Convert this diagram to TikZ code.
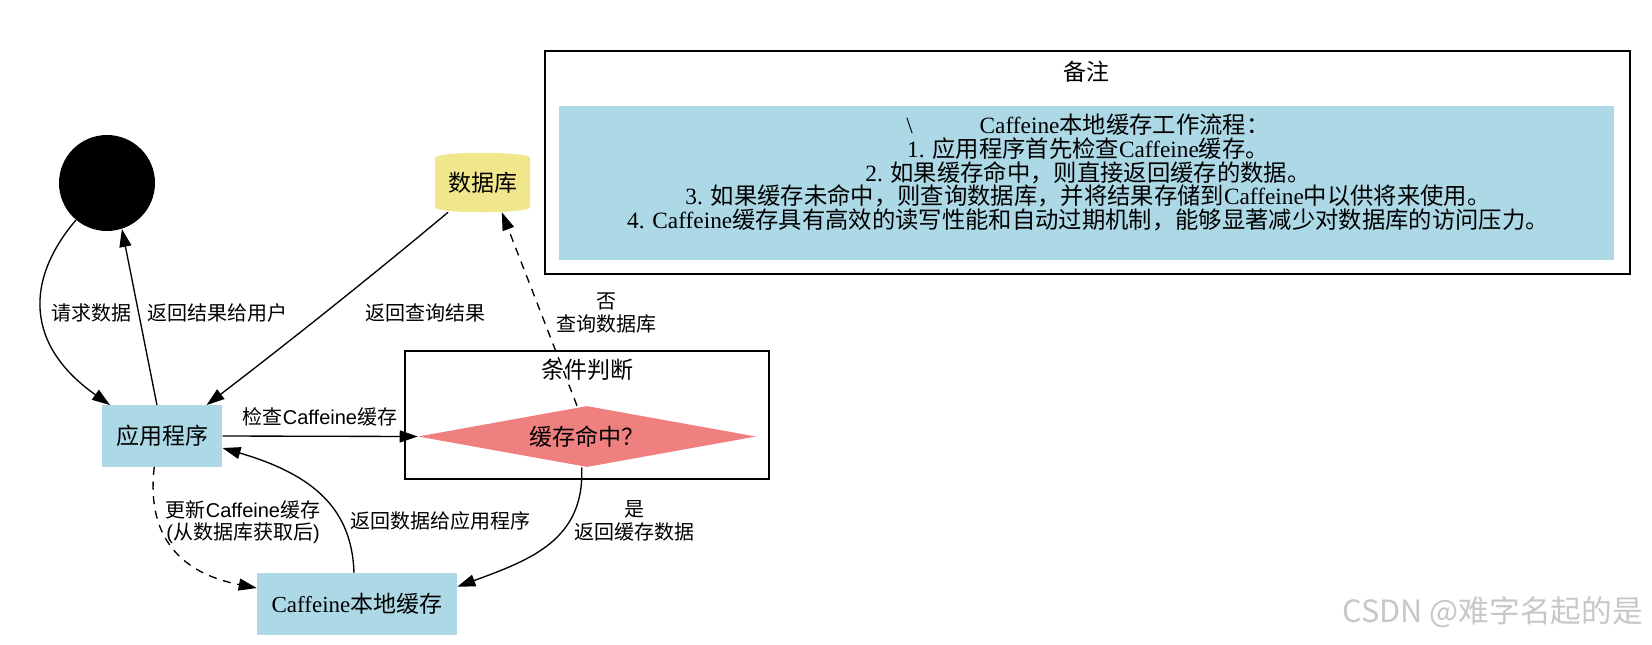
\documentclass[tikz,border=0pt]{standalone}
\usepackage{fontspec}
\setmainfont{Liberation Serif}
\newfontfamily\cjk{Noto Sans CJK SC}
\newfontfamily\lsans{Liberation Sans}
\usetikzlibrary{arrows.meta,shapes.geometric}
\definecolor{lblue}{HTML}{ADD8E6}
\definecolor{khakic}{HTML}{F0E68C}
\definecolor{lcoral}{HTML}{F08080}
\newcommand\zh[1]{{\cjk #1}}
\newcommand\nodefont{\fontsize{17.25}{20}\selectfont}
\newcommand\edgefont{\fontsize{15}{17}\selectfont\lsans}
\newcommand\notefont{\fontsize{17.5}{17.7}\selectfont\lineskiplimit=-30pt\relax}
\begin{document}
\begin{tikzpicture}[x=0.75pt,y=-0.75pt,
  boxnode/.style={rectangle, fill=lblue, inner sep=0, font=\nodefont},
  edge/.style={draw=black, line width=1pt, -{Triangle[length=13.5pt,width=9pt]}},
  dashedge/.style={edge, dash pattern=on 6pt off 5pt},
  elabel/.style={font=\edgefont, align=center, inner sep=0},
  frame/.style={draw=black, line width=1pt, fill=none, inner sep=0}
]
\useasboundingbox (0,0) rectangle (1652,644);

% note
\node[frame, minimum width=813.75pt, minimum height=167.25pt] (note) at (1087.5,162.5) {};
\node[font=\nodefont, inner sep=0] (notetitle) at (1086,72) {\zh{备注}};
\node[rectangle, fill=lblue, inner sep=0, minimum width=791.25pt, minimum height=115.5pt] (noteblue) at (1086.5,183) {};
\node[font=\notefont, align=center, inner sep=0] (notetext) at (1088,172.5) {%
\textbackslash\hspace{50pt}Caffeine\zh{本地缓存工作流程：}\\
1. \zh{应用程序首先检查}Caffeine\zh{缓存。}\\
2. \zh{如果缓存命中，则直接返回缓存的数据。}\\
3. \zh{如果缓存未命中，则查询数据库，并将结果存储到}Caffeine\zh{中以供将来使用。}\\
4. Caffeine\zh{缓存具有高效的读写性能和自动过期机制，能够显著减少对数据库的访问压力。}};

% cluster
\node[frame, minimum width=273pt, minimum height=96pt] (cond) at (587,415) {};
\node[font=\nodefont, inner sep=0] (condlabel) at (587,370) {\zh{条件判断}};

% nodes
\node[circle, fill=black, minimum size=72pt, inner sep=0] (start) at (107,183) {};
\fill[khakic] (435,158) -- (435,207) .. controls (435,214) and (530,214) .. (530,207)
  -- (530,158) .. controls (530,151) and (435,151) .. (435,158) -- cycle;
\node[rectangle, inner sep=0, minimum width=71.25pt, minimum height=44.25pt, font=\nodefont] (db) at (482.5,182.5) {\zh{数据库}};
\node[boxnode, minimum width=90pt, minimum height=46pt] (app) at (162.3,436) {\zh{应用程序}};
\node[boxnode, minimum width=150pt, minimum height=46.5pt] (caf) at (357,604) {Caffeine\zh{本地缓存}};
\node[diamond, fill=lcoral, inner sep=0, aspect=5.5, minimum width=253.5pt, minimum height=45.75pt, font=\nodefont] (hit) at (587,436.5) {};
\node[font=\nodefont, inner sep=0] (hittext) at (587,436.5) {\zh{缓存命中？}};

% edges
\draw[edge] (start.230) .. controls (25,280) and (25,345) .. ([xshift=6pt]app.north west);
\draw[edge] ([xshift=-4pt]app.north) -- (start.288);
\draw[edge] ([xshift=10pt]db.south west) .. controls (367,280) and (285,345) .. ([xshift=-12pt]app.north east);
\draw[edge] (app.east) -- (hit.west);
\draw[dashedge] ([xshift=-7.5pt]hit.north) -- ([xshift=14.5pt]db.south);
\draw[edge] ([xshift=-4pt]hit.south) .. controls (585,540) and (530,560) .. ([yshift=-10.5pt]caf.north east);
\draw[edge] ([xshift=-2.25pt]caf.north) .. controls (352,510) and (315,475) .. ([yshift=-9pt]app.east);
\draw[dashedge] ([xshift=-6pt]app.south) .. controls (145,545) and (190,575) .. ([yshift=12pt]caf.west);

% edge labels
\node[elabel] (la) at (91,313) {\zh{请求数据}};
\node[elabel] (lb) at (217,313) {\zh{返回结果给用户}};
\node[elabel] (lc) at (425,313) {\zh{返回查询结果}};
\node[elabel] (ld) at (320,417) {\zh{检查}Caffeine\zh{缓存}};
\node[elabel] (le) at (606,313) {\zh{否}\\\zh{查询数据库}};
\node[elabel] (lf) at (634,520.5) {\zh{是}\\\zh{返回缓存数据}};
\node[elabel] (lg) at (440,521) {\zh{返回数据给应用程序}};
\node[elabel] (lh) at (243,522) {\zh{更新}Caffeine\zh{缓存}\\(\zh{从数据库获取后})};

% watermark
\node[font=\fontsize{23}{25}\selectfont\cjk, text=black!22, anchor=east, inner sep=0] (wm) at (1643,612) {CSDN @难字名起的是};
\end{tikzpicture}
\end{document}
